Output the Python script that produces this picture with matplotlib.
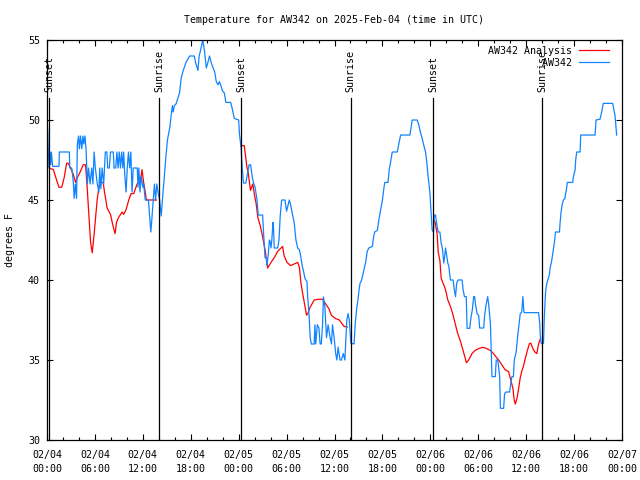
import matplotlib
matplotlib.use('Agg')
import matplotlib.dates as mdates
import matplotlib.pyplot as plt
import matplotlib.transforms as mtransforms
import numpy as np

# observed temperature (hours since 2025-02-04 00:00 UTC, deg F)
obs_hours = [
    0.0, 0.1, 0.15, 0.25, 0.35, 0.45, 0.55, 0.7, 0.9, 1.5, 1.55, 2.8, 2.85, 3.1,
    3.3, 3.4, 3.55, 3.7, 3.8, 3.95, 4.05, 4.2, 4.35, 4.5, 4.6, 4.75, 4.9, 5.05,
    5.2, 5.4, 5.6, 5.75, 5.9, 6.05, 6.3, 6.5, 6.6, 6.75, 6.9, 7.1, 7.3, 7.5,
    7.6, 7.8, 7.95, 8.3, 8.4, 8.6, 8.75, 8.9, 9.05, 9.2, 9.35, 9.5, 9.6, 9.75,
    9.9, 10.05, 10.2, 10.35, 10.5, 10.65, 10.8, 11.3, 11.4, 11.5, 11.65, 11.8,
    12.0, 12.1, 12.3, 12.7, 12.85, 13.0, 13.1, 13.3, 13.45, 13.6, 13.75, 13.9,
    14.1, 14.3, 14.45, 14.7, 14.9, 15.1, 15.4, 15.5, 15.7, 15.8, 15.95, 16.15,
    16.4, 16.6, 16.8, 17.0, 17.4, 17.85, 18.45, 18.6, 18.9, 19.05, 19.25, 19.5,
    19.7, 19.95, 20.15, 20.35, 20.55, 20.8, 21.0, 21.2, 21.4, 21.6, 21.8, 22.0,
    22.2, 22.4, 23.0, 23.2, 23.45, 24.0, 24.1, 24.3, 24.45, 24.6, 24.9, 25.05,
    25.3, 25.5, 25.6, 25.75, 25.9, 26.05, 26.3, 26.45, 27.0, 27.1, 27.3, 27.45,
    27.55, 27.7, 27.85, 27.95, 28.05, 28.15, 28.3, 28.38, 28.45, 28.88, 29.05,
    29.2, 29.38, 29.8, 30.0, 30.15, 30.34, 30.55, 30.75, 30.95, 31.17, 31.4,
    31.6, 31.8, 31.95, 32.1, 32.3, 32.55, 32.65, 32.83, 32.95, 33.1, 33.45,
    33.55, 33.65, 33.85, 34.05, 34.2, 34.35, 34.5, 34.62, 34.8, 35.0, 35.2,
    35.45, 35.62, 35.75, 35.95, 36.15, 36.3, 36.45, 36.7, 36.87, 37.1, 37.3,
    37.4, 37.54, 37.7, 37.85, 38.04, 38.45, 38.6, 38.79, 38.95, 39.05, 39.2,
    39.4, 39.62, 39.8, 39.9, 40.1, 40.3, 40.74, 40.9, 41.03, 41.36, 41.55,
    41.78, 42.0, 42.2, 42.3, 42.7, 42.85, 43.0, 43.23, 43.86, 44.05, 44.28,
    45.44, 45.73, 46.36, 46.55, 46.78, 46.95, 47.19, 47.4, 47.53, 47.7, 47.94,
    48.05, 48.12, 48.23, 48.4, 48.5, 48.65, 48.8, 48.98, 49.2, 49.36, 49.5,
    49.69, 49.8, 49.9, 50.05, 50.19, 50.3, 50.52, 50.85, 51.0, 51.15, 51.3,
    51.48, 51.98, 52.1, 52.27, 52.5, 52.6, 52.93, 53.1, 53.25, 53.43, 53.55,
    53.65, 53.85, 54.05, 54.18, 54.68, 54.8, 55.0, 55.18, 55.3, 55.52, 55.62,
    55.72, 56.14, 56.25, 56.43, 56.55, 56.68, 56.77, 57.18, 57.3, 57.47, 57.93,
    58.1, 58.22, 58.4, 58.51, 58.75, 58.93, 59.1, 59.26, 59.45, 59.59, 59.7,
    59.76, 61.55, 61.7, 61.76, 61.88, 62.17, 62.26, 62.42, 62.55, 62.71, 62.9,
    63.0, 63.21, 63.4, 63.55, 63.67, 64.17, 64.25, 64.38, 64.5, 64.67, 64.85,
    65.08, 65.15, 65.83, 65.9, 66.13, 66.2, 66.33, 66.75, 66.83, 68.63, 68.75,
    69.25, 69.45, 69.66, 70.83, 71.0, 71.12, 71.33,
]
obs_temp = [
    50.0, 49.2, 48.3, 47.0, 48.0, 47.2, 48.0, 47.1, 47.1, 47.1, 48.0, 48.0, 47.0, 47.0,
    46.1, 45.1, 46.0, 45.1, 48.5, 49.0, 48.2, 49.0, 48.2, 49.0, 48.5, 49.0, 48.1, 46.0,
    47.0, 46.0, 47.0, 46.0, 48.0, 47.0, 46.0, 45.5, 47.0, 45.7, 47.0, 46.0, 48.0, 48.0,
    47.0, 47.0, 48.0, 48.0, 47.0, 47.0, 48.0, 47.0, 48.0, 47.0, 48.0, 47.0, 48.0, 46.5,
    45.5, 47.0, 48.0, 47.0, 48.0, 45.5, 47.0, 47.0, 45.8, 47.0, 45.5, 46.5,
    45.8, 46.0, 45.0, 45.0, 44.0, 43.0, 43.6, 45.0, 46.0, 45.0, 46.0, 45.5,
    45.0, 44.0, 45.0, 46.5, 47.8, 48.8, 49.6, 50.1, 50.9, 50.5, 50.9, 51.0,
    51.4, 51.7, 52.6, 53.0, 53.6, 54.0, 54.0, 53.6, 53.1, 54.0, 54.4, 55.0,
    54.4, 53.25, 53.6, 54.0, 53.6, 53.25, 53.0, 52.4, 52.2, 52.4, 52.1, 51.8,
    51.7, 51.1, 51.1, 50.7, 50.1, 50.0, 49.1, 48.3, 47.0, 46.06, 46.06, 46.5,
    47.2, 47.2, 46.8, 46.3, 46.0, 45.8, 45.0, 44.06, 44.06, 43.1, 41.4, 41.4,
    40.9, 41.6, 42.5, 42.4, 42.0, 42.5, 43.6, 43.1, 42.0, 42.0, 42.5,
    44.0, 45.0, 45.0, 44.3, 44.6, 45.0, 44.6, 44.06, 43.6, 42.5, 41.97,
    41.9, 41.4, 40.9, 40.6, 40.1, 39.9, 38.9, 37.7, 36.44, 36.0, 36.0,
    37.2, 36.0, 37.2, 37.0, 36.0, 36.0, 37.2, 38.94, 38.3, 36.4, 37.2,
    36.4, 36.0, 37.2, 36.4, 35.4, 35.0, 35.8, 35.0, 35.0, 35.4, 35.0,
    36.0, 37.5, 37.9, 37.5, 36.06, 36.0, 37.3, 38.25, 38.8, 39.3, 39.8,
    40.0, 40.5, 40.9, 41.1, 41.8, 42.0, 42.1, 42.7, 43.0, 43.1, 43.75,
    44.4, 45.0, 45.8, 46.1, 46.1, 46.9, 47.3, 48.0, 48.0, 48.5, 49.06,
    49.06, 50.0, 50.0, 49.7, 49.2, 48.9, 48.4, 48.0, 47.5, 46.56, 45.5,
    44.6, 44.0, 43.1, 43.0, 44.06, 44.06, 43.5, 43.0, 43.0, 42.3, 42.0,
    41.06, 41.5, 42.0, 41.5, 41.06, 40.9, 40.0, 40.0, 39.4, 38.96, 39.8,
    40.0, 40.0, 39.4, 38.96, 38.96, 36.98, 36.98, 37.7, 38.1, 38.96, 38.96,
    38.5, 37.9, 37.8, 37.0, 37.0, 37.8, 38.5, 38.96, 38.5, 37.3, 35.6,
    33.96, 33.96, 35.0, 35.0, 34.6, 33.96, 31.98, 31.98, 32.9, 33.0, 33.0,
    33.6, 33.96, 33.96, 35.0, 35.5, 36.45, 37.2, 37.9, 38.0, 38.96, 38.1,
    37.96, 37.96, 37.3, 36.56, 36.04, 36.04, 37.5, 39.2, 39.7, 40.0, 40.3,
    40.75, 41.25, 41.9, 42.4, 43.0, 43.0, 43.6, 44.27, 44.7, 45.0, 45.1,
    45.8, 46.1, 46.1, 46.4, 46.9, 47.5, 48.0, 48.0, 49.06, 49.06, 50.0,
    50.05, 50.5, 51.04, 51.04, 50.6, 50.3, 49.06,
]

# analysis temperature (nighttime only, nan = no analysis)
ana_hours = [
    0.3, 0.8, 1.2, 1.5, 1.85, 2.15, 2.46, 2.65, 2.95, 3.29, 3.58, 3.8, 4.2, 4.53,
    4.83, 5.04, 5.25, 5.45, 5.66, 5.87, 6.08, 6.28, 6.5, 6.7, 7.03, 7.2, 7.53,
    7.95, 8.3, 8.53, 8.7, 8.95, 9.41, 9.6, 9.9, 10.24, 10.53, 10.86, 11.28,
    11.7, 11.9, 12.1, 12.3, 12.45, 13.7, 18.0,
    24.3, 24.7, 24.85, 25.05, 25.2, 25.47, 25.76, 25.95, 26.18, 26.4, 26.7,
    27.0, 27.3, 27.63, 28.05, 28.46, 28.9, 29.5, 29.7, 30.05, 30.5, 30.95,
    31.4, 31.6, 31.8, 32.0, 32.25, 32.5, 32.65, 32.95, 33.46, 34.05, 34.5,
    34.9, 35.3, 35.6, 36.1, 36.6, 36.9, 37.2, 37.6, 43.0,
    48.44, 48.6, 48.85, 48.98, 49.2, 49.36, 49.6, 49.9, 50.19, 50.55, 50.85,
    51.15, 51.4, 51.75, 52.1, 52.52, 52.8, 53.22, 53.6, 54.0, 54.47, 54.9,
    55.52, 55.9, 56.55, 56.95, 57.35, 57.8, 58.05, 58.35, 58.5, 58.64, 58.85,
    59.05, 59.26, 59.45, 59.65, 59.89, 60.1, 60.42, 60.59, 60.85, 61.1, 61.34,
    61.55, 61.76,
]
ana_temp = [
    47.0, 46.9, 46.25, 45.8, 45.8, 46.4, 47.3, 47.3, 47.0, 46.6, 46.1, 46.4, 46.8, 47.2,
    47.2, 45.7, 44.06, 42.4, 41.7, 42.7, 43.9, 45.0, 45.8, 46.1, 46.1, 45.5, 44.5,
    44.1, 43.3, 42.9, 43.6, 43.9, 44.25, 44.1, 44.4, 45.0, 45.4, 45.4, 46.0,
    46.25, 46.9, 46.1, 45.5, 45.0, 45.0, np.nan,
    48.4, 48.4, 47.8, 47.0, 46.7, 45.6, 46.0, 45.4, 44.8, 43.9, 43.4,
    42.7, 41.9, 40.75, 41.1, 41.4, 41.8, 42.1, 41.5, 41.1, 40.9, 41.0,
    41.1, 40.8, 39.8, 39.2, 38.5, 37.8, 37.9, 38.3, 38.75, 38.8, 38.8,
    38.5, 38.2, 37.8, 37.6, 37.5, 37.3, 37.1, 37.06, np.nan,
    43.75, 43.6, 42.9, 41.77, 41.2, 40.1, 39.8, 39.4, 38.75, 38.3, 37.8,
    37.2, 36.7, 36.2, 35.6, 34.83, 35.0, 35.4, 35.6, 35.7, 35.79, 35.75,
    35.6, 35.4, 35.0, 34.7, 34.4, 34.27, 33.8, 33.2, 32.5, 32.25, 32.6,
    33.2, 33.9, 34.3, 34.6, 35.1, 35.5, 36.04, 36.04, 35.7, 35.5, 35.4,
    36.0, 36.3,
]

sun_hours = [0.25, 14.08, 24.28, 38.02, 48.32, 61.97]
sun_labels = ['Sunset', 'Sunrise', 'Sunset', 'Sunrise', 'Sunset', 'Sunrise']

FONT = 'DejaVu Sans Mono'
FS = 7.2

base = mdates.date2num(np.datetime64('2025-02-04T00:00'))
obs_x = base + np.array(obs_hours) / 24.0
ana_x = base + np.array(ana_hours) / 24.0

plt.rcParams['font.family'] = FONT
plt.rcParams['font.size'] = FS

fig = plt.figure(figsize=(6.4, 4.8), dpi=100)
ax = fig.add_axes([47 / 640, 40 / 480, 575 / 640, 400 / 480])

ax.plot(ana_x, ana_temp, color='#ff0000', linewidth=0.9, label='AW342 Analysis')
ax.plot(obs_x, obs_temp, color='#1084ff', linewidth=0.9, label='AW342'.rjust(14))

# sunset / sunrise markers
trans = mtransforms.blended_transform_factory(ax.transData, ax.transAxes)
for h, lab in zip(sun_hours, sun_labels):
    x = base + h / 24.0
    ax.axvline(x, ymin=0, ymax=0.855, color='black', linewidth=0.9)
    ax.text(x, 0.87, lab, transform=trans, rotation=90, ha='center',
            va='bottom', fontsize=FS)

ax.set_xlim(base, base + 3)
ax.set_ylim(30, 55)
ax.set_yticks([30, 35, 40, 45, 50, 55])
ax.xaxis.set_major_locator(mdates.HourLocator(byhour=[0, 6, 12, 18]))
ax.xaxis.set_minor_locator(mdates.HourLocator(byhour=range(0, 24, 2)))
ax.xaxis.set_major_formatter(mdates.DateFormatter('%m/%d\n%H:%M'))
for lbl in ax.get_xticklabels():
    lbl.set_linespacing(1.45)

ax.tick_params(which='both', direction='in', top=True, right=True, width=0.8,
               labelsize=FS)
ax.tick_params(which='major', length=4.5)
ax.tick_params(which='minor', length=2.5)
ax.tick_params(axis='x', pad=7.5)
ax.tick_params(axis='y', pad=5)
for sp in ax.spines.values():
    sp.set_linewidth(0.9)

ax.set_ylabel('degrees F', fontsize=FS)
ax.yaxis.set_label_coords(-32 / 575, 0.5)
ax.set_title('Temperature for AW342 on 2025-Feb-04 (time in UTC)',
             fontsize=FS, pad=12)

ax.legend(loc='upper right', bbox_to_anchor=(1 - 10 / 575, 1 - 3 / 400),
          markerfirst=False, frameon=False, fontsize=FS, handlelength=3.0,
          handletextpad=0.7, labelspacing=0.2, borderaxespad=0, borderpad=0.3)

fig.savefig('out.png', dpi=100)
